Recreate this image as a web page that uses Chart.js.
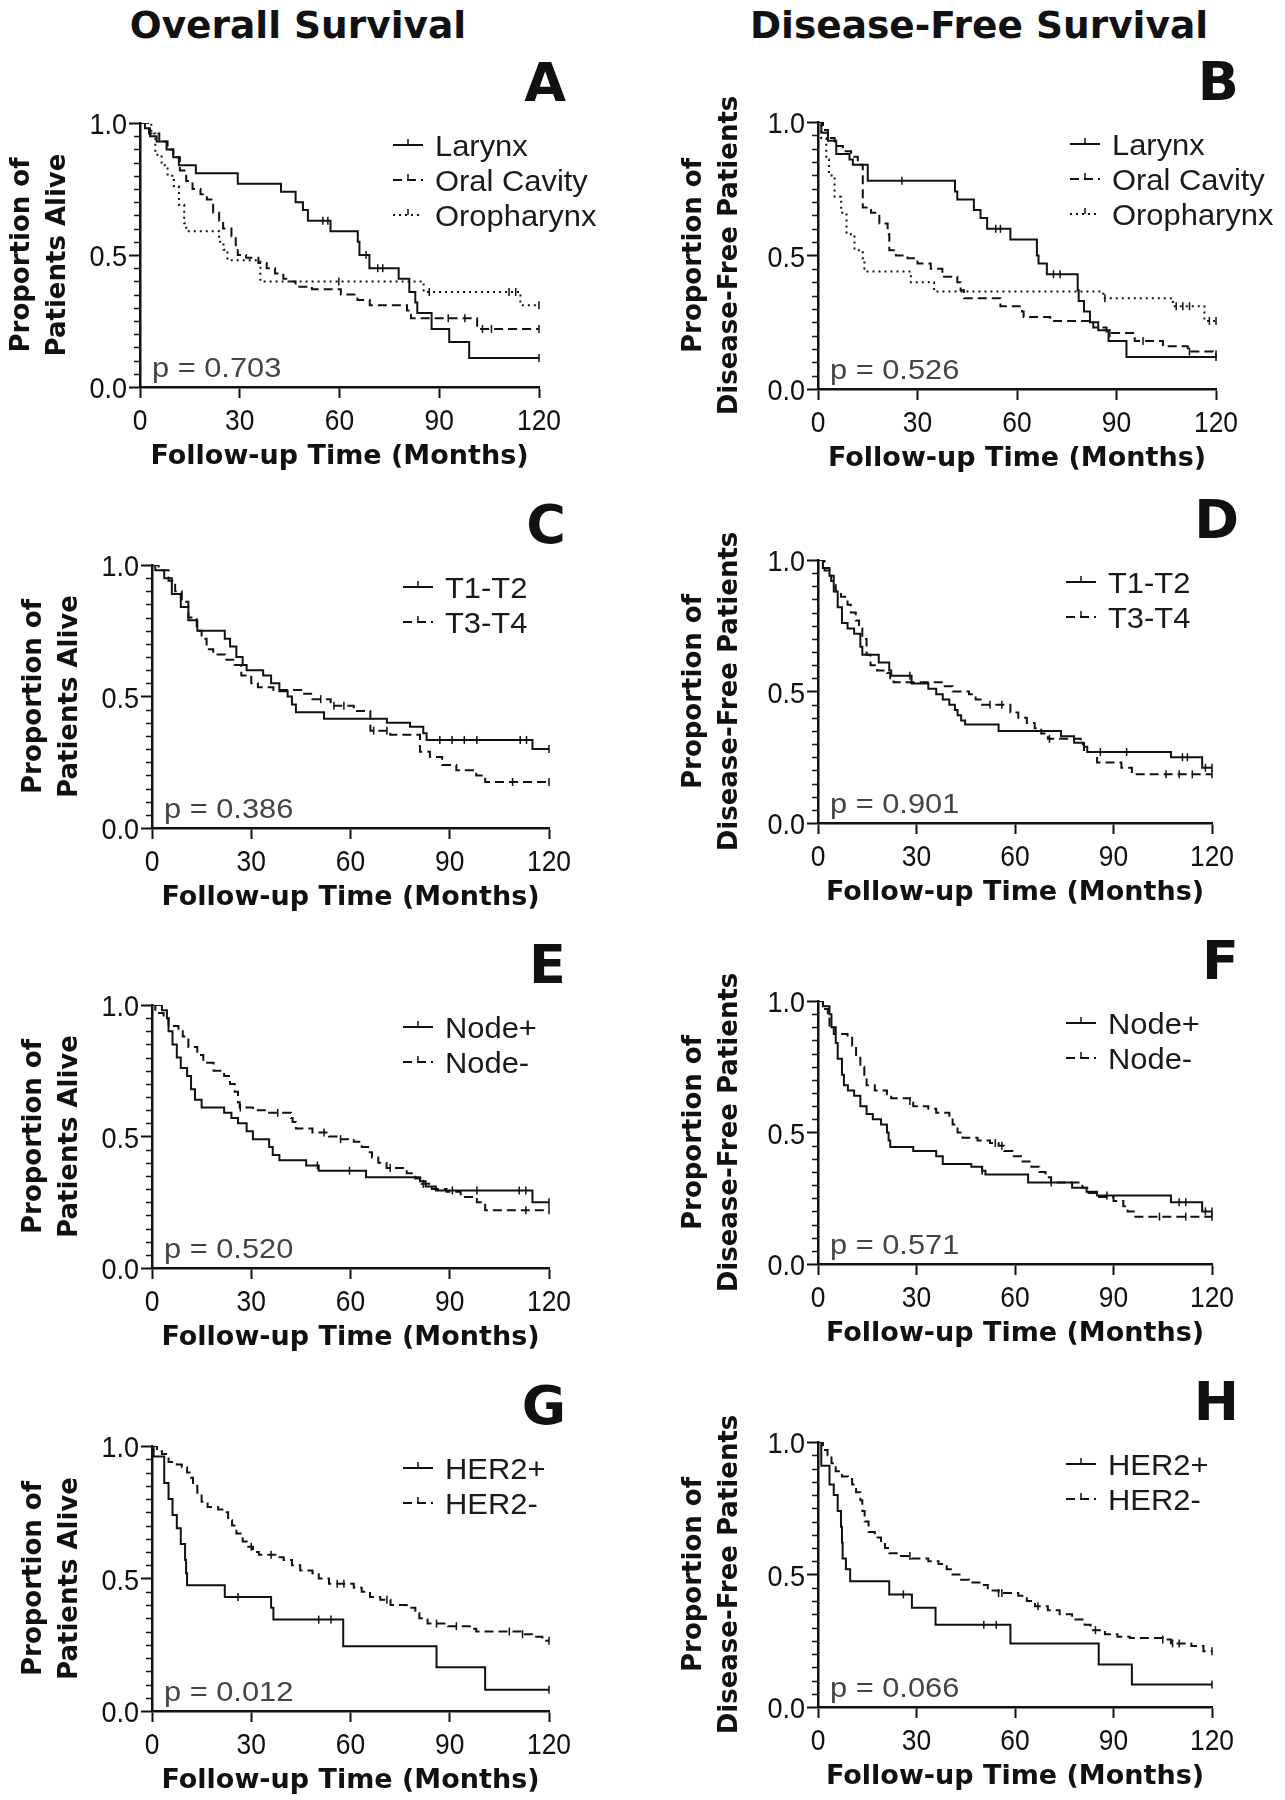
<!DOCTYPE html>
<html>
<head>
<meta charset="utf-8">
<script src="https://cdn.jsdelivr.net/npm/chart.js@4.4.1/dist/chart.umd.min.js"></script>
<style>
html, body { margin: 0; padding: 0; background: #fff; }
#page { position: relative; width: 1285px; height: 1800px; overflow: hidden; }
#page canvas { position: absolute; }
.col-title { position: absolute; top: 3px; height: 44px; line-height: 44px; transform: translateX(-50%);
  font: bold 37.5px "DejaVu Sans", sans-serif; color: #111; white-space: nowrap; }
.letter { position: absolute; height: 54px; line-height: 54px; font: bold 54px "DejaVu Sans", sans-serif; color: #111; }
</style>
</head>
<body>
<div id="page">
  <div class="col-title" style="left:298px">Overall Survival</div>
  <div class="col-title" style="left:979px">Disease-Free Survival</div>
</div>
<script>
// ---- data ----
const xTicks = [0, 30, 60, 90, 120];
const yTicks = [0, 0.5, 1.0];
const panelLetters = ['A', 'B', 'C', 'D', 'E', 'F', 'G', 'H'];
const pValues = ['0.703', '0.526', '0.386', '0.901', '0.520', '0.571', '0.012', '0.066'];

const siteNames = ['Larynx', 'Oral Cavity', 'Oropharynx'];
const tNames = ['T1-T2', 'T3-T4'];
const nodeNames = ['Node+', 'Node-'];
const her2Names = ['HER2+', 'HER2-'];

// [month, proportion] after each drop
const osLarynx = [[0,1],[1.5,0.98],[3,0.95],[5,0.93],[8,0.9],[10,0.87],[11.7,0.84],[16.8,0.81],[29.4,0.77],[42.4,0.74],[46.8,0.7],[49,0.67],[50.5,0.63],[57.3,0.59],[65.5,0.55],[66,0.5],[69,0.45],[77.8,0.41],[81,0.36],[82.8,0.32],[83.4,0.28],[87.7,0.22],[93,0.17],[99,0.11],[120,0.11]];
const osOral = [[0,1],[2.7,0.96],[5.8,0.93],[8.3,0.9],[10,0.87],[12,0.82],[13.9,0.78],[15.8,0.75],[18.2,0.73],[20.1,0.71],[22,0.66],[23.8,0.63],[25,0.6],[27.5,0.57],[28.8,0.53],[29.4,0.5],[31.9,0.49],[35.6,0.47],[38.1,0.45],[40.6,0.43],[43.1,0.41],[44.3,0.4],[46.8,0.38],[51.7,0.37],[60.4,0.35],[65.4,0.33],[69.1,0.31],[80.3,0.29],[81.5,0.26],[101.4,0.22],[120,0.22]];
const osOro = [[0,1],[3.4,0.96],[4.6,0.88],[6.5,0.84],[8.3,0.8],[10.2,0.76],[11.7,0.69],[13.3,0.62],[13.9,0.59],[23.8,0.55],[25.1,0.52],[26.3,0.48],[36.2,0.4],[85.3,0.36],[114.4,0.31],[120,0.31]];
const dfsLarynx = [[0,1],[1,0.96],[3,0.93],[5.5,0.88],[9.5,0.86],[10.5,0.84],[15,0.78],[41.3,0.74],[42,0.71],[47,0.67],[49,0.64],[51,0.6],[58,0.56],[66,0.5],[66.5,0.47],[69,0.43],[78.3,0.37],[78.6,0.33],[80.2,0.29],[82,0.25],[84.5,0.22],[87.6,0.18],[93,0.12],[120,0.12]];
const dfsOral = [[0,1],[1.5,0.97],[3,0.94],[5,0.91],[7.5,0.89],[10,0.87],[12,0.84],[13.5,0.68],[16,0.66],[18.5,0.62],[21,0.58],[21.5,0.52],[23.5,0.5],[27,0.49],[30,0.47],[34,0.45],[37.5,0.42],[42,0.4],[43,0.37],[44,0.34],[55,0.31],[61.5,0.29],[62,0.27],[70,0.255],[83,0.23],[87,0.21],[95.5,0.18],[104,0.16],[111.5,0.14],[119,0.13],[120,0.13]];
const dfsOro = [[0,1],[1,0.94],[2.5,0.86],[3.3,0.8],[5,0.72],[7,0.66],[8.6,0.58],[11,0.52],[13.5,0.48],[14,0.44],[28,0.4],[35,0.365],[86,0.34],[107,0.31],[116.5,0.255],[120,0.255]];
const osT12 = [[0,1],[1,0.98],[3.7,0.95],[6,0.89],[8.7,0.84],[11,0.79],[13.7,0.75],[22,0.72],[23.6,0.69],[25.5,0.65],[27.4,0.62],[28.6,0.6],[33.6,0.58],[36,0.55],[38.5,0.52],[41,0.5],[42.3,0.47],[43.5,0.44],[52,0.415],[71,0.4],[78,0.385],[82,0.36],[83,0.335],[115,0.3],[120,0.3]];
const osT34 = [[0,1],[2,0.98],[5,0.94],[7,0.9],[9,0.86],[11,0.8],[13.5,0.75],[15,0.72],[16.5,0.68],[18.5,0.66],[22,0.64],[25,0.62],[27,0.58],[30,0.55],[32,0.535],[36.7,0.525],[46,0.51],[48.5,0.49],[54,0.465],[61,0.445],[66,0.37],[72,0.355],[81,0.29],[84,0.27],[87.7,0.24],[92,0.22],[98,0.2],[100.7,0.175],[120,0.175]];
const dfsT12 = [[0,1],[1.5,0.97],[3.5,0.94],[4.8,0.88],[6,0.82],[7.3,0.76],[9,0.74],[11,0.72],[12.9,0.67],[13.5,0.64],[18.5,0.61],[21.7,0.58],[22.3,0.56],[28.5,0.53],[33.6,0.51],[36,0.49],[38,0.47],[40,0.45],[41.7,0.43],[42.5,0.41],[43.6,0.39],[44.8,0.375],[55,0.35],[74,0.33],[78,0.305],[81,0.29],[82,0.27],[107.5,0.25],[117,0.21],[120,0.21]];
const dfsT34 = [[0,1],[2,0.96],[4,0.92],[5.4,0.88],[7,0.86],[9,0.83],[10,0.8],[11.5,0.77],[12.5,0.74],[13.5,0.7],[14.8,0.64],[16,0.6],[18,0.58],[21,0.57],[22,0.55],[23,0.535],[38.6,0.52],[41,0.5],[46,0.49],[48,0.47],[50,0.45],[58.6,0.42],[61,0.4],[63.6,0.38],[66,0.36],[68,0.34],[70,0.32],[80,0.3],[81,0.27],[85,0.23],[92.4,0.21],[95.6,0.185],[120,0.185]];
const osNodePos = [[0,1],[3,0.98],[4.5,0.95],[5,0.9],[6.2,0.85],[7.5,0.8],[8.7,0.76],[10.6,0.73],[11.8,0.68],[13,0.64],[15,0.61],[21.8,0.59],[24,0.57],[26,0.55],[28.6,0.52],[30.5,0.49],[35.4,0.46],[36.5,0.43],[38.5,0.41],[46.6,0.39],[50.4,0.37],[64.7,0.345],[81,0.33],[82.7,0.31],[85.8,0.295],[115,0.25],[120,0.25]];
const osNodeNeg = [[0,1],[1,0.97],[3.5,0.95],[5,0.92],[8,0.91],[9.3,0.88],[11,0.84],[13.7,0.81],[15.5,0.78],[18.6,0.75],[21.8,0.73],[23.6,0.7],[25,0.67],[26,0.63],[26.5,0.61],[30.5,0.6],[34.8,0.59],[42,0.57],[42.5,0.555],[43.5,0.53],[48.5,0.515],[53.5,0.5],[56.6,0.49],[61,0.48],[63.4,0.46],[65.3,0.44],[66.5,0.42],[68.4,0.4],[70.9,0.38],[77,0.36],[79.6,0.34],[81.5,0.32],[84.6,0.3],[89,0.29],[93.3,0.27],[98.2,0.25],[100.7,0.22],[120,0.22]];
const dfsNodePos = [[0,1],[1.5,0.98],[3.5,0.95],[4.1,0.9],[5.4,0.84],[6,0.78],[7.3,0.72],[7.9,0.68],[9.1,0.66],[11,0.64],[12.9,0.6],[14.8,0.57],[16.7,0.55],[19.2,0.53],[21,0.5],[21.5,0.47],[22,0.445],[29,0.43],[36,0.41],[38,0.38],[46.7,0.37],[50,0.355],[51,0.34],[64,0.31],[77.4,0.29],[81.8,0.275],[85,0.26],[107.5,0.235],[117,0.2],[120,0.2]];
const dfsNodeNeg = [[0,1],[1.5,0.97],[3,0.94],[3.5,0.9],[4.8,0.875],[9,0.86],[10.4,0.83],[11.6,0.79],[12.9,0.75],[14.1,0.71],[14.8,0.68],[17.3,0.66],[21,0.645],[22.3,0.63],[28,0.62],[29,0.6],[33.6,0.59],[36,0.575],[40,0.56],[41,0.53],[42.5,0.5],[44,0.48],[48.6,0.47],[52.4,0.46],[55,0.45],[56.7,0.43],[59.2,0.41],[61.8,0.39],[65,0.37],[67.4,0.35],[69.3,0.33],[71,0.31],[80.5,0.29],[82.4,0.27],[85,0.255],[90,0.24],[93,0.22],[94.3,0.2],[96.2,0.18],[120,0.18]];
const osHer2Pos = [[0,1],[0.5,0.96],[3.7,0.86],[5,0.8],[6.2,0.74],[7.5,0.69],[8.7,0.63],[10,0.57],[10.3,0.52],[10.6,0.475],[22,0.43],[36,0.39],[36.7,0.345],[57.8,0.244],[86,0.165],[100.7,0.08],[120,0.08]];
const osHer2Neg = [[0,1],[1.5,0.98],[3,0.97],[5,0.94],[7.5,0.93],[9,0.92],[10.6,0.9],[11.8,0.88],[12.4,0.85],[13.7,0.82],[15,0.79],[16.8,0.77],[20,0.76],[21.8,0.75],[23,0.72],[24.2,0.7],[25.5,0.67],[27.4,0.64],[28.6,0.62],[30.5,0.6],[32.3,0.59],[37.3,0.58],[39.8,0.57],[42.3,0.55],[44.8,0.53],[48.5,0.52],[50.4,0.5],[53.5,0.48],[61,0.465],[63.4,0.45],[65.9,0.43],[69,0.42],[72.1,0.4],[77,0.39],[79.6,0.37],[80.8,0.35],[83.3,0.33],[89.5,0.32],[97,0.31],[98,0.3],[112,0.29],[115.7,0.28],[118,0.265],[120,0.265]];
const dfsHer2Pos = [[0,1],[1,0.91],[3.5,0.84],[4.8,0.8],[6,0.74],[7,0.68],[7.3,0.62],[7.5,0.56],[8.5,0.52],[9.8,0.475],[21.7,0.425],[28.6,0.375],[35.8,0.31],[58.6,0.24],[85.5,0.16],[95.6,0.085],[120,0.085]];
const dfsHer2Neg = [[0,1],[1.5,0.97],[2.9,0.95],[4.1,0.92],[5.4,0.89],[7.3,0.87],[9.1,0.86],[10.4,0.84],[11.6,0.81],[12.9,0.78],[13.5,0.74],[14.2,0.7],[15.4,0.66],[17.3,0.64],[19.2,0.62],[20.4,0.6],[21.7,0.58],[24.8,0.57],[28.6,0.56],[33.6,0.55],[36.7,0.54],[39.2,0.52],[41,0.5],[43.6,0.48],[46,0.47],[50,0.46],[51.7,0.44],[55,0.43],[61,0.42],[63.6,0.4],[66.1,0.38],[70,0.365],[73.6,0.35],[77.4,0.33],[81.2,0.31],[83,0.29],[87.4,0.275],[91.2,0.265],[95,0.26],[105,0.255],[107.5,0.24],[113.7,0.23],[117.4,0.21],[120,0.21]];

// censored observations (months)
const osLarynxCens = [55, 56.5, 68, 71.5, 73, 120];
const osOralCens = [92.7, 97.7, 103, 105.7, 120];
const osOroCens = [59.8, 87, 111, 113, 120];
const dfsLarynxCens = [25.3, 53.6, 55, 71, 73, 120];
const dfsOralCens = [88, 98, 112, 120];
const dfsOroCens = [86.5, 108, 110, 112, 118, 120];
const osT12Cens = [87, 90.7, 94.4, 98.2, 111.3, 113.2, 120];
const osT34Cens = [51, 55, 58, 67, 71, 109, 120];
const dfsT12Cens = [28, 86, 94, 111, 112.5, 118, 120];
const dfsT34Cens = [52.4, 56, 70.5, 106, 110, 114, 120];
const osNodePosCens = [50, 59.7, 90.8, 98.2, 111, 113, 120];
const osNodeNegCens = [26.7, 38, 52, 57, 72, 82, 113, 120];
const dfsNodePosCens = [50, 88, 110, 112, 118, 120];
const dfsNodeNegCens = [28, 54, 56, 71, 104, 112, 120];
const osHer2PosCens = [26, 50.4, 54.1, 120];
const osHer2NegCens = [30, 36, 56, 58, 71, 86, 92, 108, 112, 120];
const dfsHer2PosCens = [26, 50.5, 54.3, 120];
const dfsHer2NegCens = [28, 55, 56, 67, 84.5, 105, 108, 110, 120];

const panelCurves = [
  [osLarynx, osOral, osOro], [dfsLarynx, dfsOral, dfsOro],
  [osT12, osT34], [dfsT12, dfsT34],
  [osNodePos, osNodeNeg], [dfsNodePos, dfsNodeNeg],
  [osHer2Pos, osHer2Neg], [dfsHer2Pos, dfsHer2Neg]
];
const panelCensors = [
  [osLarynxCens, osOralCens, osOroCens], [dfsLarynxCens, dfsOralCens, dfsOroCens],
  [osT12Cens, osT34Cens], [dfsT12Cens, dfsT34Cens],
  [osNodePosCens, osNodeNegCens], [dfsNodePosCens, dfsNodeNegCens],
  [osHer2PosCens, osHer2NegCens], [dfsHer2PosCens, dfsHer2NegCens]
];
const panelNames = [siteNames, siteNames, tNames, tNames, nodeNames, nodeNames, her2Names, her2Names];

// ---- layout ----
const plotBoxes = [
  {col: 0, L: 140, R: 539, T: 123, B: 387},
  {col: 1, L: 818, R: 1216, T: 122, B: 389},
  {col: 0, L: 152, R: 549, T: 565, B: 828},
  {col: 1, L: 818, R: 1212, T: 560, B: 823},
  {col: 0, L: 152, R: 549, T: 1005, B: 1268},
  {col: 1, L: 818, R: 1212, T: 1001, B: 1264},
  {col: 0, L: 152, R: 549, T: 1446, B: 1711},
  {col: 1, L: 818, R: 1212, T: 1442, B: 1707}
];
const BOLD_FONT = '"DejaVu Sans", sans-serif';
const TEXT_FONT = '"Liberation Sans", Arial, sans-serif';
const INK = '#111';
const dashes = [[], [9, 5], [2, 4]];
const TOP_PAD = 50;

function survAt(curve, t) {
  let s = curve[0][1];
  for (const [ti, si] of curve) {
    if (ti <= t) s = si; else break;
  }
  return s;
}

function stretchText(ctx, text, x, y, sx) {
  ctx.save();
  ctx.translate(x, y);
  ctx.scale(sx, 1);
  ctx.fillText(text, 0, 0);
  ctx.restore();
}

// tick labels, minor ticks, y titles, legend and p value
const kmDecor = {
  id: 'kmDecor',
  afterDraw(chart, args, o) {
    const {ctx, chartArea: a, scales: {x, y}} = chart;
    ctx.save();
    ctx.strokeStyle = INK;
    ctx.lineWidth = 1.5;
    for (let i = 1; i < 20; i++) {
      if (i % 10 === 0) continue;
      const py = Math.round(y.getPixelForValue(i / 20)) + 0.5;
      ctx.beginPath();
      ctx.moveTo(a.left - 6, py);
      ctx.lineTo(a.left, py);
      ctx.stroke();
    }

    // narrow numeric tick labels
    ctx.fillStyle = INK;
    ctx.font = '30px ' + TEXT_FONT;
    ctx.textBaseline = 'alphabetic';
    ctx.textAlign = 'center';
    x.ticks.forEach(t => {
      stretchText(ctx, String(t.value), x.getPixelForValue(t.value), a.bottom + 43, 0.88);
    });
    ctx.textAlign = 'right';
    y.ticks.forEach(t => {
      stretchText(ctx, Number(t.value).toFixed(1), a.left - 13, y.getPixelForValue(t.value) + 11, 0.9);
    });

    ctx.font = 'bold 26px ' + BOLD_FONT;
    ctx.textAlign = 'center';
    ctx.textBaseline = 'middle';
    o.yTitle.forEach((line, k) => {
      ctx.save();
      ctx.translate(a.left - o.yTitleGap + k * 36, (a.top + a.bottom) / 2);
      ctx.rotate(-Math.PI / 2);
      ctx.fillText(line, 0, 0);
      ctx.restore();
    });

    ctx.font = '30px ' + TEXT_FONT;
    ctx.textAlign = 'left';
    ctx.textBaseline = 'alphabetic';
    ctx.fillStyle = '#1a1a1a';
    o.names.forEach((name, k) => {
      const ry = a.top + 22 + k * 35;
      ctx.save();
      ctx.lineWidth = 2;
      ctx.setLineDash(dashes[k]);
      ctx.beginPath();
      ctx.moveTo(a.right - 146, ry);
      ctx.lineTo(a.right - 116, ry);
      ctx.stroke();
      ctx.setLineDash([]);
      ctx.lineWidth = 1.5;
      ctx.beginPath();
      ctx.moveTo(a.right - 131, ry - 6);
      ctx.lineTo(a.right - 131, ry);
      ctx.stroke();
      ctx.restore();
      stretchText(ctx, name, a.right - 104, ry + 11, 1.03);
    });

    ctx.fillStyle = '#444';
    ctx.font = '28px ' + TEXT_FONT;
    stretchText(ctx, 'p = ' + o.p, a.left + 12, a.bottom - 10, 1.1);
    ctx.restore();
  }
};

const page = document.getElementById('page');

plotBoxes.forEach((box, idx) => {
  const YW = box.col === 0 ? 136 : 142;
  const XH = 86;
  const colEnd = box.col === 0 ? 640 : 1285;
  const left = box.L - YW;
  const top = box.T - TOP_PAD;

  const cv = document.createElement('canvas');
  cv.width = colEnd - left;
  cv.height = box.B - box.T + TOP_PAD + XH;
  cv.style.left = left + 'px';
  cv.style.top = top + 'px';
  page.appendChild(cv);

  const letter = document.createElement('div');
  letter.className = 'letter';
  letter.textContent = panelLetters[idx];
  letter.style.right = (1285 - (box.col === 0 ? 566 : 1239)) + 'px';
  letter.style.top = (box.T - 72) + 'px';
  page.appendChild(letter);

  const curves = panelCurves[idx];
  const datasets = curves.map((c, i) => ({
    type: 'line',
    data: c.map(([t, v]) => ({x: t, y: v})),
    stepped: true,
    borderColor: INK,
    borderWidth: 2,
    borderDash: dashes[i],
    pointRadius: 0,
    fill: false,
    tension: 0
  }));
  panelCensors[idx].forEach((times, i) => {
    datasets.push({
      type: 'scatter',
      data: times.map(t => ({x: t, y: survAt(curves[i], t)})),
      showLine: false,
      clip: false,
      pointStyle: 'line',
      pointRotation: 90,
      pointRadius: 4,
      pointBorderWidth: 1.5,
      pointBorderColor: INK,
      pointBackgroundColor: INK
    });
  });

  new Chart(cv, {
    type: 'line',
    data: {datasets: datasets},
    plugins: [kmDecor],
    options: {
      responsive: false,
      animation: false,
      events: [],
      layout: {padding: {top: TOP_PAD, right: colEnd - box.R, left: 0, bottom: 0}},
      plugins: {
        legend: {display: false},
        tooltip: {enabled: false},
        kmDecor: {
          names: panelNames[idx],
          p: pValues[idx],
          yTitle: box.col === 0 ? ['Proportion of', 'Patients Alive'] : ['Proportion of', 'Disease-Free Patients'],
          yTitleGap: box.col === 0 ? 118 : 124
        }
      },
      scales: {
        x: {
          type: 'linear',
          min: xTicks[0],
          max: xTicks[xTicks.length - 1],
          afterBuildTicks: s => { s.ticks = xTicks.map(v => ({value: v})); },
          afterFit: s => { s.height = XH; },
          ticks: {display: false},
          grid: {drawOnChartArea: false, drawTicks: true, tickLength: 11, tickWidth: 2, tickColor: INK},
          border: {color: INK, width: 2.5},
          title: {
            display: true,
            text: 'Follow-up Time (Months)',
            font: {family: BOLD_FONT, size: 27, weight: 'bold', lineHeight: 1.2},
            color: INK,
            padding: 0
          }
        },
        y: {
          type: 'linear',
          min: yTicks[0],
          max: yTicks[yTicks.length - 1],
          afterBuildTicks: s => { s.ticks = yTicks.map(v => ({value: v})); },
          afterFit: s => { s.width = YW; },
          ticks: {display: false},
          grid: {drawOnChartArea: false, drawTicks: true, tickLength: 11, tickWidth: 2, tickColor: INK},
          border: {color: INK, width: 2.5}
        }
      }
    }
  });
});
</script>
</body>
</html>
